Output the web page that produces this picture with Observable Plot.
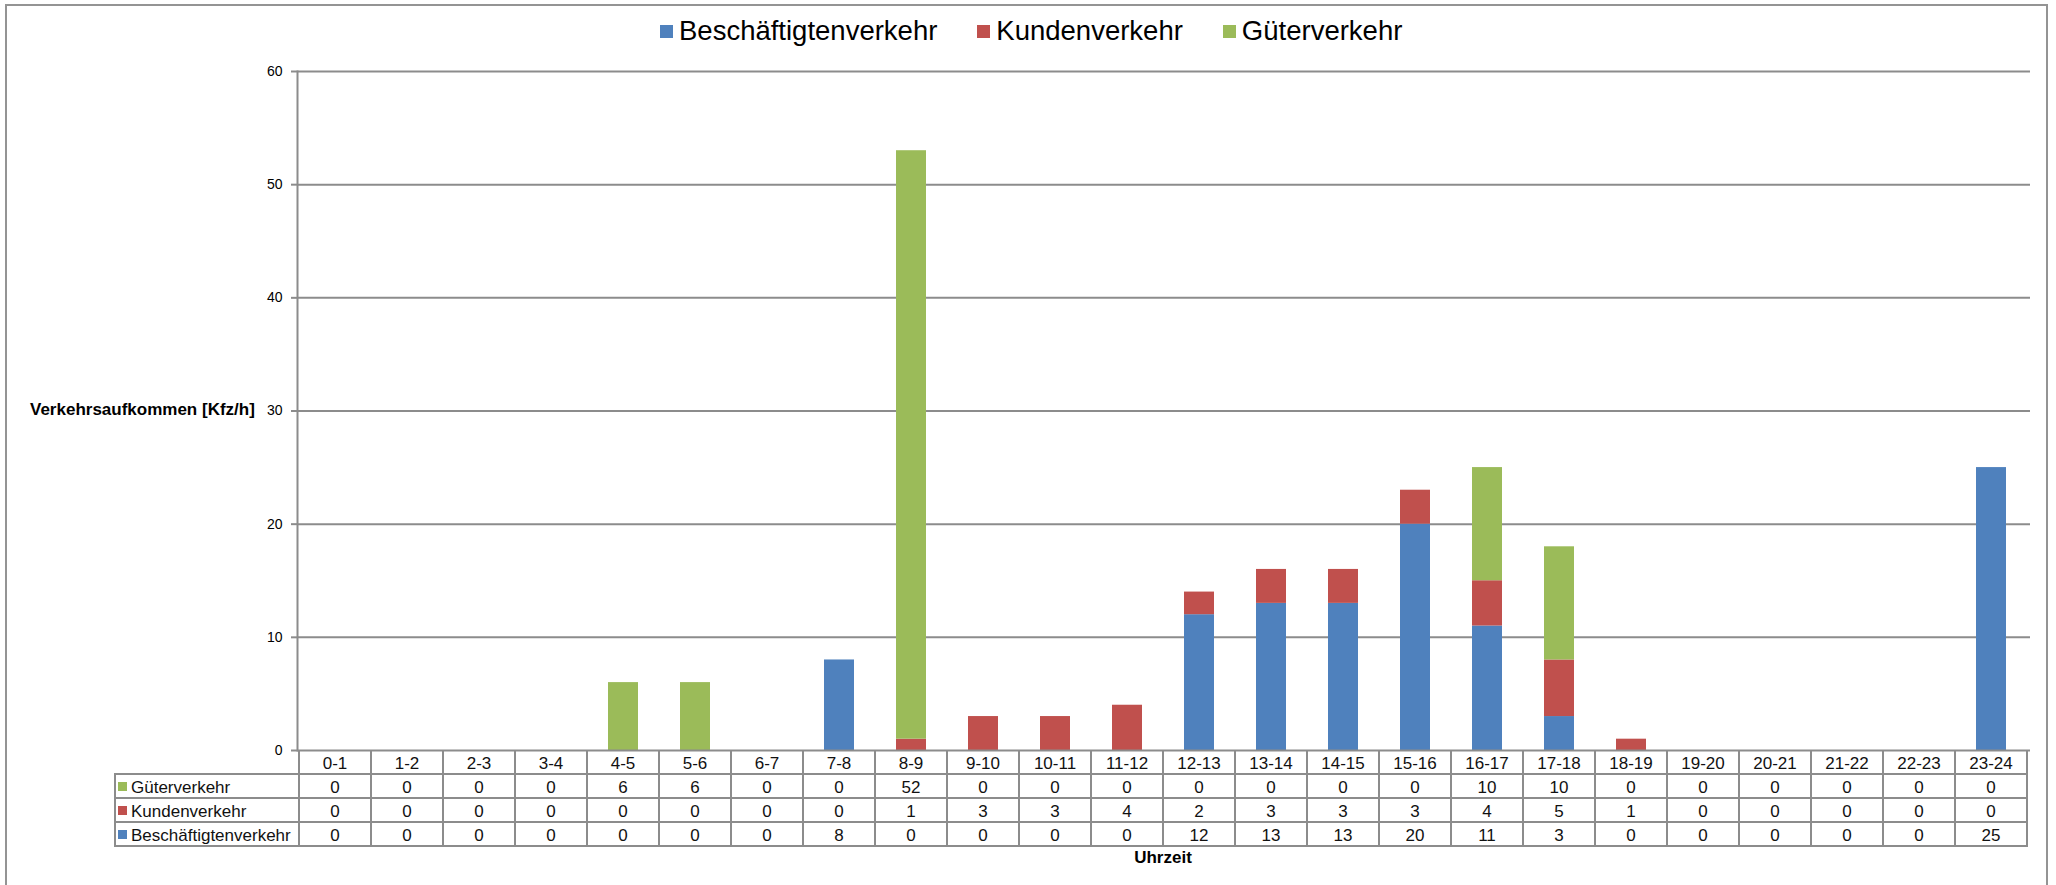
<!DOCTYPE html>
<html>
<head>
<meta charset="utf-8">
<script src="https://cdn.jsdelivr.net/npm/d3@7"></script>
<script src="https://cdn.jsdelivr.net/npm/@observablehq/plot@0.6"></script>
<style>
  html, body { margin: 0; padding: 0; background: #fff; }
  body { width: 2056px; height: 885px; overflow: hidden; font-family: "Liberation Sans", Arial, sans-serif; }
  #wrap { position: relative; width: 2056px; height: 885px; }
  #border { position: absolute; left: 5px; top: 4px; width: 2039px; height: 900px; border: 2px solid #949494; box-sizing: content-box; }
  #legend { position: absolute; left: 660px; top: 12px; height: 38px; display: flex; align-items: center; font-size: 27.5px; color: #000; white-space: nowrap; }
  #legend .item { display: flex; align-items: center; margin-right: 40px; }
  #legend .sw { width: 13px; height: 13px; margin-right: 6px; }
  #ylabel { position: absolute; left: 30px; top: 400px; font-weight: bold; font-size: 17px; color: #000; white-space: nowrap; }
  #xlabel { position: absolute; left: 0; width: 100%; top: 848px; font-weight: bold; font-size: 17px; color: #000; white-space: nowrap; }
  #plot { position: absolute; left: 0; top: 0; }
  #table { position: absolute; left: 0; top: 0; }
</style>
</head>
<body>
<div id="wrap">
  <div id="border"></div>
  <div id="legend"></div>
  <div id="plot"></div>
  <svg id="table" width="2056" height="885"></svg>
  <div id="ylabel">Verkehrsaufkommen [Kfz/h]</div>
  <div id="xlabel"></div>
</div>
<script>
// ---- Data ----
const categories = ["0-1","1-2","2-3","3-4","4-5","5-6","6-7","7-8","8-9","9-10","10-11","11-12",
  "12-13","13-14","14-15","15-16","16-17","17-18","18-19","19-20","20-21","21-22","22-23","23-24"];
const seriesNames = ["Beschäftigtenverkehr", "Kundenverkehr", "Güterverkehr"];
const seriesColors = ["#4F81BD", "#C0504D", "#9BBB59"];
const beschaeftigten = [0,0,0,0,0,0,0,8,0,0,0,0,12,13,13,20,11,3,0,0,0,0,0,25];
const kunden =         [0,0,0,0,0,0,0,0,1,3,3,4,2,3,3,3,4,5,1,0,0,0,0,0];
const gueter =         [0,0,0,0,6,6,0,0,52,0,0,0,0,0,0,0,10,10,0,0,0,0,0,0];
const yTicks = [0,10,20,30,40,50,60];
const xTitle = "Uhrzeit";
// table rows top-to-bottom
const tableRows = [
  {name: "Güterverkehr", values: gueter, color: seriesColors[2]},
  {name: "Kundenverkehr", values: kunden, color: seriesColors[1]},
  {name: "Beschäftigtenverkehr", values: beschaeftigten, color: seriesColors[0]}
];

const seriesValues = [beschaeftigten, kunden, gueter];
const data = [];
categories.forEach((c, i) => {
  seriesNames.forEach((s, j) => data.push({cat: c, series: s, value: seriesValues[j][i]}));
});

// ---- Legend ----
const legend = document.getElementById("legend");
seriesNames.forEach((s, j) => {
  const it = document.createElement("div");
  it.className = "item";
  it.innerHTML = `<div class="sw" style="background:${seriesColors[j]}"></div><span>${s}</span>`;
  legend.appendChild(it);
});

const GRID = "#8c8c8c";
const chart = Plot.plot({
  width: 2056,
  height: 760,
  marginLeft: 297,
  marginRight: 26,
  marginTop: 71,
  marginBottom: 10,
  style: {fontFamily: "Liberation Sans, Arial, sans-serif", background: "transparent", overflow: "visible"},
  x: {domain: categories, paddingInner: 0.58, paddingOuter: 0.29, axis: null},
  y: {domain: [0, 60], axis: null},
  color: {domain: seriesNames, range: seriesColors},
  marks: [
    Plot.gridY(yTicks.filter(d => d > 0), {stroke: GRID, strokeOpacity: 1, strokeWidth: 2}),
    Plot.barY(data, {x: "cat", y: "value", fill: "series", order: seriesNames}),
    Plot.axisY(yTicks, {tickSize: 6, tickPadding: 9, fontSize: 14, stroke: GRID, strokeWidth: 2, fill: "#000", label: null, tickFormat: d => String(d)}),
    Plot.ruleY([0], {stroke: GRID, strokeWidth: 2}),
    Plot.frame({anchor: "left", stroke: GRID, strokeWidth: 2})
  ]
});
document.getElementById("plot").appendChild(chart);

// ---- Data table under the axis, aligned to Plot's x scale ----
const xs = chart.scale("x");
const ys = chart.scale("y");
const step = xs.step, bw = xs.bandwidth;
const cellLeft = c => xs.apply(c) - (step - bw) / 2;
const x0 = cellLeft(categories[0]);
const x1 = cellLeft(categories[categories.length - 1]) + step;
const top0 = ys.apply(0);
const rowH = 24;
const tableLeft = 115;
const svg = d3.select("#table");
const g = svg.append("g");
for (let r = 1; r <= 4; r++) {
  g.append("line").attr("x1", tableLeft).attr("x2", x1)
    .attr("y1", top0 + r * rowH).attr("y2", top0 + r * rowH)
    .attr("stroke", GRID).attr("stroke-width", 2);
}
g.append("line").attr("x1", tableLeft).attr("x2", tableLeft).attr("y1", top0 + rowH - 1).attr("y2", top0 + 4 * rowH + 1)
  .attr("stroke", GRID).attr("stroke-width", 2);
for (let k = 0; k <= categories.length; k++) {
  const x = x0 + k * step;
  g.append("line").attr("x1", x).attr("x2", x).attr("y1", top0).attr("y2", top0 + 4 * rowH + 1)
    .attr("stroke", GRID).attr("stroke-width", 2);
}
const txtStyle = sel => sel.attr("font-family", "Liberation Sans, Arial, sans-serif").attr("font-size", 17).attr("fill", "#111");
categories.forEach(c => {
  txtStyle(g.append("text")).attr("x", cellLeft(c) + step / 2).attr("y", top0 + rowH / 2 + 1)
    .attr("text-anchor", "middle").attr("dominant-baseline", "central").text(c);
});
tableRows.forEach((row, r) => {
  const cy = top0 + (r + 1) * rowH + rowH / 2 + 1;
  g.append("rect").attr("x", tableLeft + 3).attr("y", cy - 5).attr("width", 9).attr("height", 9).attr("fill", row.color);
  txtStyle(g.append("text")).attr("x", tableLeft + 16).attr("y", cy).attr("dominant-baseline", "central").text(row.name);
  categories.forEach((c, i) => {
    txtStyle(g.append("text")).attr("x", cellLeft(c) + step / 2).attr("y", cy)
      .attr("text-anchor", "middle").attr("dominant-baseline", "central").text(row.values[i]);
  });
});

const xl = document.getElementById("xlabel");
xl.style.left = x0 + "px";
xl.style.width = (x1 - x0) + "px";
xl.style.textAlign = "center";
xl.textContent = xTitle;
</script>
</body>
</html>
